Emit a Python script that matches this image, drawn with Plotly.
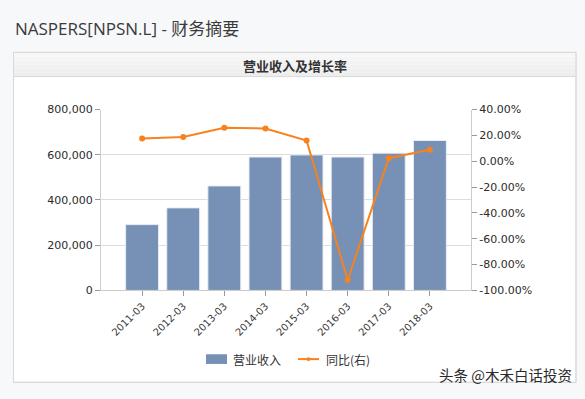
import plotly.graph_objects as go

W, H = 585, 399

categories = ["2011-03", "2012-03", "2013-03", "2014-03", "2015-03", "2016-03", "2017-03", "2018-03"]
revenue = [291000, 365000, 462000, 590000, 599000, 590000, 607000, 663000]
yoy = [17.5, 18.8, 25.8, 25.3, 16.0, -92.0, 2.3, 8.8]

left_tickvals = [0, 200000, 400000, 600000, 800000]
left_ticktext = ["0", "200,000", "400,000", "600,000", "800,000"]
right_tickvals = [40, 20, 0, -20, -40, -60, -80, -100]
right_ticktext = ["40.00%", "20.00%", "0.00%", "-20.00%", "-40.00%", "-60.00%", "-80.00%", "-100.00%"]

BAR = "#7690b6"
LINE = "#f7821e"
TXT = "#2b2b2b"


def px(x):
    return x / W


def py(y):
    return 1 - y / H


fig = go.Figure()
fig.add_trace(go.Bar(x=categories, y=revenue, name="营业收入", marker=dict(color=BAR, line=dict(color="#e8edf4", width=1)),
                     width=0.8, yaxis="y", showlegend=False))
fig.add_trace(go.Scatter(x=categories, y=yoy, name="同比(右)", mode="lines+markers", yaxis="y2",
                         line=dict(color=LINE, width=2), marker=dict(color=LINE, size=6), showlegend=False))

shapes = []
# panel
shapes.append(dict(type="rect", xref="paper", yref="paper", x0=px(13.5), x1=px(576), y0=py(389), y1=py(48),
                   fillcolor="white", line=dict(color="#d9d9d9", width=1), layer="below"))
# header gradient approximation
steps = 6
for i in range(steps):
    y0 = 48 + i * 25 / steps
    y1 = 48 + (i + 1) * 25 / steps
    c = 247 - int(i * 12 / steps)
    shapes.append(dict(type="rect", xref="paper", yref="paper", x0=px(14), x1=px(575.5), y0=py(y1), y1=py(y0),
                       fillcolor=f"rgb({c},{c},{c})", line=dict(width=0), layer="below"))
shapes.append(dict(type="line", xref="paper", yref="paper", x0=px(14), x1=px(576), y0=py(73), y1=py(73),
                   line=dict(color="#d9d9d9", width=1), layer="below"))
shapes.append(dict(type="rect", xref="paper", yref="paper", x0=px(13.5), x1=px(576), y0=py(389), y1=py(48),
                   fillcolor="rgba(0,0,0,0)", line=dict(color="#d9d9d9", width=1), layer="below"))
# legend swatches
shapes.append(dict(type="rect", xref="paper", yref="paper", x0=px(206), x1=px(227), y0=py(370), y1=py(360),
                   fillcolor=BAR, line=dict(width=0)))
shapes.append(dict(type="line", xref="paper", yref="paper", x0=px(298), x1=px(319), y0=py(365), y1=py(365),
                   line=dict(color=LINE, width=2)))
shapes.append(dict(type="circle", xref="paper", yref="paper", x0=px(306.5), x1=px(310.5), y0=py(367), y1=py(363),
                   fillcolor=LINE, line=dict(width=0)))

annotations = [
    dict(text="NASPERS[NPSN.L] - 财务摘要", xref="paper", yref="paper", x=px(13), y=py(23), xanchor="left",
         yanchor="middle", showarrow=False, font=dict(family="Open Sans, Noto Sans CJK SC", size=17, color="#3a3a3a")),
    dict(text="<b>营业收入及增长率</b>", xref="paper", yref="paper", x=px(295), y=py(61), xanchor="center",
         yanchor="middle", showarrow=False, font=dict(family="Noto Sans CJK SC", size=13, color="#333")),
    dict(text="营业收入", xref="paper", yref="paper", x=px(231), y=py(365), xanchor="left", yanchor="middle",
         showarrow=False, font=dict(family="Noto Sans CJK SC", size=12, color="#333")),
    dict(text="同比(右)", xref="paper", yref="paper", x=px(324), y=py(365), xanchor="left", yanchor="middle",
         showarrow=False, font=dict(family="Noto Sans CJK SC", size=12, color="#333")),
    dict(text="头条 @木禾白话投资", xref="paper", yref="paper", x=px(574), y=py(381), xanchor="right",
         yanchor="middle", showarrow=False, font=dict(family="Noto Sans CJK SC", size=14.5, color="#2a2a2a")),
]

axis_font = dict(family="DejaVu Sans", size=11, color=TXT)

fig.update_layout(
    width=W, height=H,
    margin=dict(l=0, r=0, t=0, b=0),
    paper_bgcolor="#f7f8fa",
    plot_bgcolor="white",
    shapes=shapes,
    annotations=annotations,
    bargap=0.2,
    xaxis=dict(domain=[px(101), px(471)], type="category", range=[-1, 8], tickangle=-45,
               tickfont=dict(family="DejaVu Sans", size=10, color="#3a3a3a"), ticks="outside", ticklen=5,
               tickcolor="#999", showline=True, linecolor="#cccccc", showgrid=False, zeroline=False, anchor="y"),
    yaxis=dict(domain=[py(294), py(107)], range=[0, 800000], tickvals=left_tickvals, ticktext=left_ticktext,
               tickfont=axis_font, ticks="outside", ticklen=5, tickcolor="#999", showline=True,
               linecolor="#cccccc", gridcolor="#dddddd", zeroline=False, anchor="x"),
    yaxis2=dict(overlaying="y", side="right", range=[-100, 40], tickvals=right_tickvals, ticktext=right_ticktext,
                tickfont=axis_font, ticks="outside", ticklen=5, tickcolor="#999", showline=True,
                linecolor="#cccccc", showgrid=False, zeroline=False, anchor="x"),
)

fig.write_html("out.html")
